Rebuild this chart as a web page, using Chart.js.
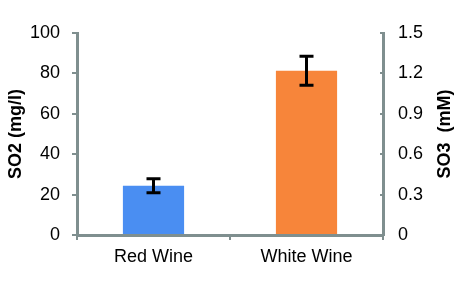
<!DOCTYPE html>
<html>
<head>
<meta charset="utf-8">
<script src="https://cdn.jsdelivr.net/npm/chart.js@4"></script>
<style>
    html, body { margin: 0; padding: 0; background: #fff; }
    #wrap { width: 459px; height: 300px; }
</style>
</head>
<body>
<div id="wrap"><canvas id="chart-so2"></canvas></div>
<script>
// datos
const categorias = ['Red Wine', 'White Wine'];
const valoresSO2 = [24.4, 81.3];
const erroresSO2 = [3.5, 7.2];
const coloresBarras = ['#4a8ef2', '#f7853a'];
const ticksIzq = [0, 20, 40, 60, 80, 100];
const ticksDer = [0, 0.3, 0.6, 0.9, 1.2, 1.5];

const GRIS = '#7f8f8f';
const FUENTE = "'Liberation Sans', Arial, sans-serif";

// barras de error (se dibujan con la escala y)
const pluginErrores = {
    id: 'errores',
    afterDatasetsDraw(chart) {
        const ctx = chart.ctx;
        const meta = chart.getDatasetMeta(0);
        const y = chart.scales.y;
        ctx.save();
        ctx.strokeStyle = '#000';
        ctx.lineWidth = 3;
        meta.data.forEach((bar, i) => {
            const arriba = y.getPixelForValue(valoresSO2[i] + erroresSO2[i]);
            const abajo = y.getPixelForValue(valoresSO2[i] - erroresSO2[i]);
            const x = bar.x;
            ctx.beginPath();
            ctx.moveTo(x, arriba); ctx.lineTo(x, abajo);
            ctx.moveTo(x - 7, arriba); ctx.lineTo(x + 7, arriba);
            ctx.moveTo(x - 7, abajo); ctx.lineTo(x + 7, abajo);
            ctx.stroke();
        });
        ctx.restore();
    }
};

// titulo del eje derecho, girado de abajo hacia arriba
const pluginTituloDer = {
    id: 'tituloDer',
    afterDraw(chart) {
        const ctx = chart.ctx;
        const area = chart.chartArea;
        ctx.save();
        ctx.translate(445, (area.top + area.bottom) / 2);
        ctx.rotate(-Math.PI / 2);
        ctx.font = 'bold 18px ' + FUENTE;
        ctx.fillStyle = '#000';
        ctx.textAlign = 'center';
        ctx.textBaseline = 'middle';
        ctx.fillText('SO3  (mM)', 0, 0);
        ctx.restore();
    }
};

new Chart(document.getElementById('chart-so2'), {
    type: 'bar',
    data: {
        labels: categorias,
        datasets: [{
            label: 'SO2',
            data: valoresSO2,
            backgroundColor: coloresBarras,
            barPercentage: 0.4,
            categoryPercentage: 1.0,
            yAxisID: 'y'
        }]
    },
    options: {
        responsive: true,
        maintainAspectRatio: false,
        animation: false,
        layout: { padding: { top: 33, left: 0, right: 0, bottom: 0 } },
        plugins: { legend: { display: false }, tooltip: { enabled: false } },
        scales: {
            x: {
                grid: { drawOnChartArea: false, color: GRIS, tickLength: 5, lineWidth: 2 },
                border: { color: GRIS, width: 3 },
                ticks: { color: '#000', font: { family: FUENTE, size: 18 }, padding: 6 },
                afterFit(s) { s.height = 65; }
            },
            y: {
                position: 'left',
                min: 0, max: 100,
                afterBuildTicks(s) { s.ticks = ticksIzq.map(v => ({ value: v })); },
                grid: { drawOnChartArea: false, color: GRIS, tickLength: 5, lineWidth: 2 },
                border: { color: GRIS, width: 3 },
                ticks: { color: '#000', font: { family: FUENTE, size: 18 }, padding: 12 },
                title: {
                    display: true, text: 'SO2 (mg/l)', color: '#000',
                    font: { family: FUENTE, size: 18, weight: 'bold' },
                    padding: { top: 5, bottom: 0 }
                },
                afterFit(s) { s.width = 77; }
            },
            y1: {
                position: 'right',
                min: 0, max: 1.5,
                afterBuildTicks(s) { s.ticks = ticksDer.map(v => ({ value: v })); },
                grid: { drawOnChartArea: false, color: GRIS, tickLength: -3, lineWidth: 2 },
                border: { color: GRIS, width: 3 },
                ticks: {
                    color: '#000', font: { family: FUENTE, size: 18 }, padding: 18,
                    callback: v => String(v)
                },
                afterFit(s) { s.width = 76; }
            }
        }
    },
    plugins: [pluginErrores, pluginTituloDer]
});
</script>
</body>
</html>
